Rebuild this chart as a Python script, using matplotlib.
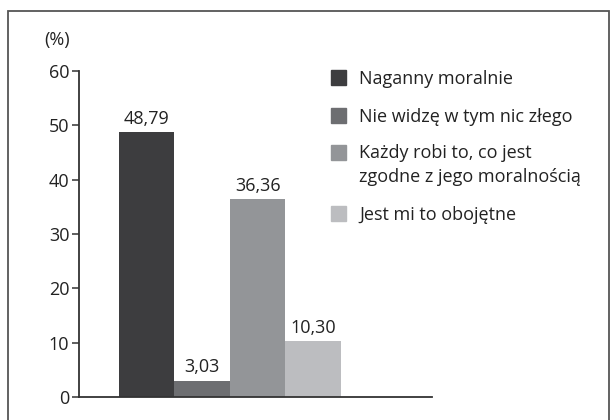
import matplotlib
matplotlib.use("Agg")
import matplotlib.pyplot as plt
from matplotlib.patches import Rectangle

categories = ["Naganny moralnie", "Nie widzę w tym nic złego",
              "Każdy robi to, co jest\nzgodne z jego moralnością", "Jest mi to obojętne"]
values = [48.79, 3.03, 36.36, 10.30]
value_labels = ["48,79", "3,03", "36,36", "10,30"]
colors = ["#3d3d3f", "#6d6e71", "#939598", "#bcbdc0"]
yticks = [0, 10, 20, 30, 40, 50, 60]

plt.rcParams["font.family"] = ["Open Sans", "DejaVu Sans"]
plt.rcParams["font.size"] = 13

fig = plt.figure(figsize=(6.14, 4.2), dpi=100)
ax = fig.add_axes([79 / 614, 1 - 397 / 420, (432 - 79) / 614, (397 - 71) / 420])

x = list(range(len(values)))
bars = ax.bar(x, values, width=1.0, color=colors)
for b, lab in zip(bars, value_labels):
    ax.annotate(lab, (b.get_x() + b.get_width() / 2, b.get_height()),
                xytext=(0, 3), textcoords="offset points",
                ha="center", va="bottom", color="#222222")

ax.set_xlim(-1.22, 5.14)
ax.set_ylim(0, 60)
ax.set_yticks(yticks)
ax.set_xticks([])
for s in ["top", "right"]:
    ax.spines[s].set_visible(False)
for s in ["left", "bottom"]:
    ax.spines[s].set_color("#333333")
    ax.spines[s].set_linewidth(1.3)
ax.tick_params(axis="y", length=5, width=1.1, color="#333333", labelcolor="#222222", pad=2)

fig.text(57 / 614, 1 - 40 / 420, "(%)", ha="center", va="center", color="#222222")

# legend drawn by hand so the two-line entry keeps its square on the first line
rows = [77, 115, 152, 213]
for y, lab, c in zip(rows, categories, colors):
    fig.patches.append(Rectangle((331 / 614, 1 - (y + 7.5) / 420), 15 / 614, 15 / 420,
                                 transform=fig.transFigure, color=c))
    for i, line in enumerate(lab.split("\n")):
        fig.text(359 / 614, 1 - (y + 6.5 + 23 * i) / 420, line, ha="left",
                 va="baseline", color="#222222")

# outer frame
fig.patches.append(Rectangle((8 / 614, -0.02), 601 / 614, 1.02 - 11 / 420,
                             transform=fig.transFigure, fill=False,
                             edgecolor="#555555", linewidth=1.3))

fig.savefig("out.png", dpi=100)
